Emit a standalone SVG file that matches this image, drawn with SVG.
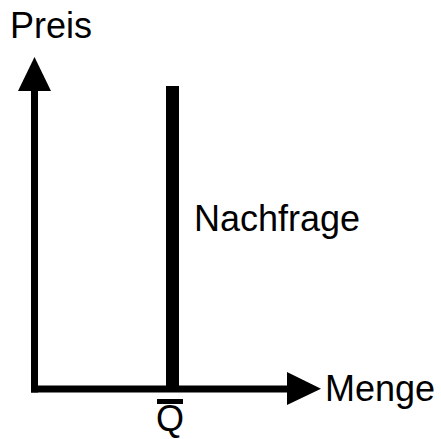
<svg xmlns="http://www.w3.org/2000/svg" width="441" height="439" viewBox="0 0 441 439">
<style>
text{font-family:"Liberation Sans",Arial,sans-serif;font-size:36px;fill:#000}
.ax{stroke:#000;stroke-width:7;fill:none}
</style>
<rect width="441" height="439" fill="#fff"/>
<g id="connectors">
<line class="ax" x1="34.5" y1="392.5" x2="34.5" y2="88"/>
<polygon points="34.5,57 18,91 51,91" fill="#000"/>
<line class="ax" x1="31" y1="389" x2="290" y2="389"/>
<polygon points="321,388.7 287,372 287,405" fill="#000"/>
</g>
<g id="demand">
<rect x="166" y="86" width="13" height="306" fill="#000"/>
<text x="194" y="231">Nachfrage</text>
</g>
<g id="yaxis-label"><text x="10" y="38">Preis</text></g>
<g id="xaxis-label"><text x="325" y="401">Menge</text></g>
<g id="qbar">
<rect x="157" y="399" width="26" height="5" fill="#000"/>
<text x="170" y="431" text-anchor="middle">Q</text>
</g>
</svg>
